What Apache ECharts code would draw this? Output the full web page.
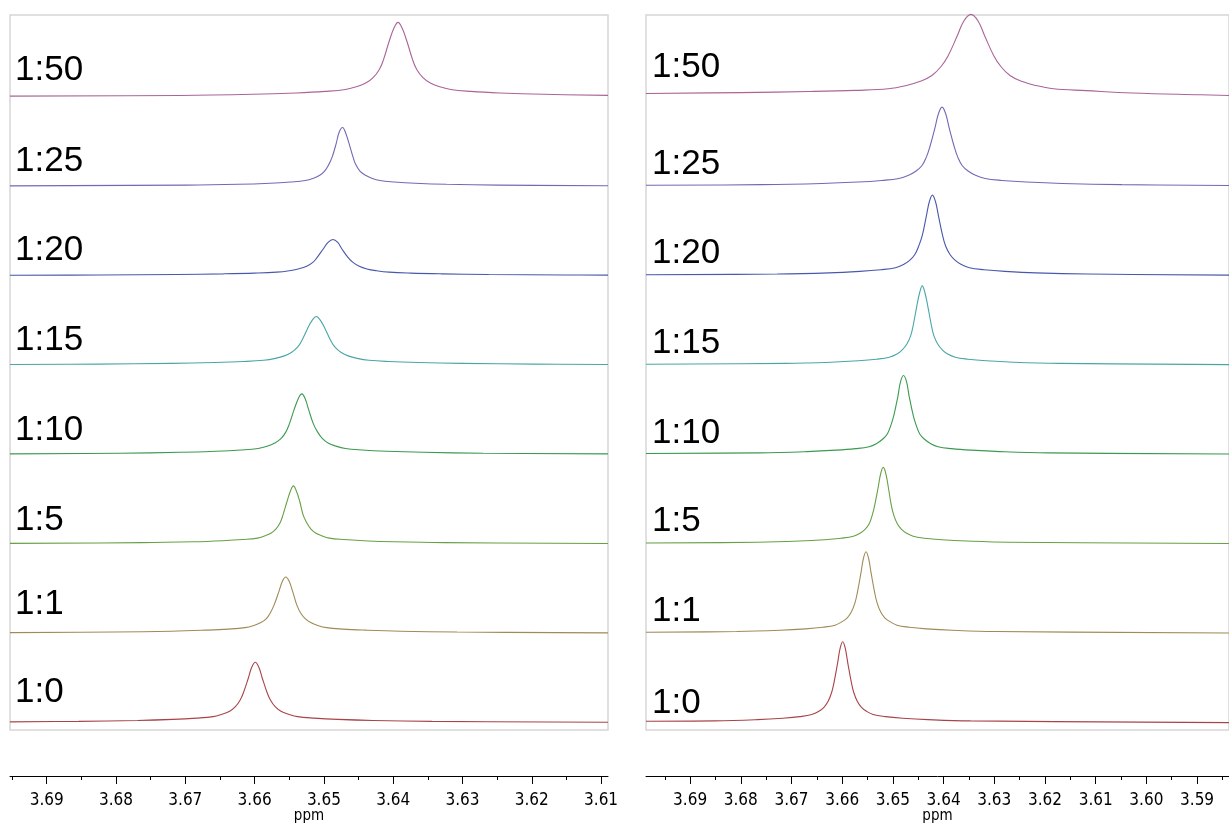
<!DOCTYPE html>
<html>
<head>
<meta charset="utf-8">
<script src="https://cdn.jsdelivr.net/npm/echarts@6/dist/echarts.min.js"></script>
<style>
html, body { margin: 0; padding: 0; background: #fff; }
#nmr { width: 1229px; height: 823px; }
</style>
</head>
<body>
<div id="nmr"></div>
<script>
// ratios, bottom trace first
var ratios = ['1:0', '1:1', '1:5', '1:10', '1:15', '1:20', '1:25', '1:50'];
var lineColors = ['#a84448', '#a08a55', '#67a045', '#3a9a50', '#4aa6a6', '#4858aa', '#7468b5', '#aa6498'];

// axis ticks (ppm)
var leftMajor = [3.61, 3.62, 3.63, 3.64, 3.65, 3.66, 3.67, 3.68, 3.69];
var leftMinor = [3.615, 3.625, 3.635, 3.645, 3.655, 3.665, 3.675, 3.685, 3.695];
var rightMajor = [3.59, 3.60, 3.61, 3.62, 3.63, 3.64, 3.65, 3.66, 3.67, 3.68, 3.69];
var rightMinor = [3.585, 3.595, 3.605, 3.615, 3.625, 3.635, 3.645, 3.655, 3.665, 3.675, 3.685, 3.695];

// left spectra [ppm, intensity]
var left_1_0 = [[3.6953,0.009],[3.6854,0.015],[3.6769,0.025],[3.6718,0.037],[3.6684,0.051],[3.6660,0.068],[3.6647,0.095],[3.6636,0.128],[3.6628,0.176],[3.6621,0.250],[3.6616,0.338],[3.6609,0.500],[3.6604,0.622],[3.6599,0.676],[3.6594,0.622],[3.6589,0.500],[3.6582,0.338],[3.6577,0.250],[3.6570,0.176],[3.6562,0.128],[3.6551,0.095],[3.6538,0.068],[3.6514,0.051],[3.6480,0.037],[3.6429,0.025],[3.6344,0.015],[3.6090,0.005]];
var left_1_1 = [[3.6953,0.007],[3.6803,0.014],[3.6720,0.023],[3.6671,0.035],[3.6638,0.047],[3.6614,0.063],[3.6601,0.088],[3.6591,0.120],[3.6583,0.164],[3.6577,0.233],[3.6572,0.315],[3.6565,0.466],[3.6560,0.580],[3.6555,0.630],[3.6550,0.580],[3.6545,0.466],[3.6539,0.315],[3.6534,0.233],[3.6527,0.164],[3.6519,0.120],[3.6509,0.088],[3.6496,0.063],[3.6473,0.047],[3.6440,0.035],[3.6390,0.023],[3.6308,0.014],[3.6090,0.005]];
var left_1_5 = [[3.6953,0.006],[3.6762,0.014],[3.6689,0.024],[3.6646,0.036],[3.6617,0.049],[3.6596,0.065],[3.6585,0.091],[3.6576,0.123],[3.6569,0.169],[3.6563,0.240],[3.6559,0.325],[3.6553,0.480],[3.6548,0.597],[3.6544,0.649],[3.6540,0.597],[3.6535,0.480],[3.6530,0.325],[3.6525,0.240],[3.6519,0.169],[3.6512,0.123],[3.6503,0.091],[3.6492,0.065],[3.6472,0.049],[3.6443,0.036],[3.6399,0.024],[3.6327,0.014],[3.6090,0.005]];
var left_1_10 = [[3.6953,0.008],[3.6795,0.015],[3.6707,0.025],[3.6655,0.037],[3.6620,0.051],[3.6595,0.068],[3.6581,0.095],[3.6571,0.129],[3.6562,0.177],[3.6555,0.251],[3.6550,0.340],[3.6543,0.502],[3.6537,0.625],[3.6532,0.679],[3.6527,0.625],[3.6522,0.502],[3.6515,0.340],[3.6509,0.251],[3.6502,0.177],[3.6494,0.129],[3.6483,0.095],[3.6469,0.068],[3.6445,0.051],[3.6410,0.037],[3.6357,0.025],[3.6270,0.015],[3.6090,0.008]];
var left_1_15 = [[3.6953,0.007],[3.6826,0.012],[3.6721,0.020],[3.6658,0.030],[3.6616,0.041],[3.6587,0.055],[3.6570,0.076],[3.6557,0.104],[3.6547,0.142],[3.6538,0.202],[3.6532,0.273],[3.6524,0.403],[3.6517,0.501],[3.6511,0.545],[3.6505,0.501],[3.6498,0.403],[3.6490,0.273],[3.6484,0.202],[3.6475,0.142],[3.6465,0.104],[3.6452,0.076],[3.6435,0.055],[3.6406,0.041],[3.6364,0.030],[3.6301,0.020],[3.6196,0.012],[3.6090,0.007]];
var left_1_20 = [[3.6953,0.006],[3.6825,0.009],[3.6712,0.015],[3.6645,0.022],[3.6600,0.030],[3.6568,0.041],[3.6550,0.057],[3.6537,0.077],[3.6525,0.106],[3.6516,0.150],[3.6510,0.203],[3.6501,0.300],[3.6494,0.374],[3.6487,0.406],[3.6480,0.374],[3.6474,0.300],[3.6465,0.203],[3.6458,0.150],[3.6449,0.106],[3.6438,0.077],[3.6424,0.057],[3.6406,0.041],[3.6375,0.030],[3.6330,0.022],[3.6262,0.015],[3.6150,0.009],[3.6090,0.007]];
var left_1_25 = [[3.6953,0.006],[3.6698,0.015],[3.6623,0.024],[3.6578,0.036],[3.6548,0.050],[3.6527,0.066],[3.6515,0.092],[3.6506,0.125],[3.6499,0.172],[3.6493,0.244],[3.6488,0.330],[3.6482,0.488],[3.6478,0.607],[3.6473,0.660],[3.6469,0.607],[3.6464,0.488],[3.6458,0.330],[3.6454,0.244],[3.6448,0.172],[3.6440,0.125],[3.6431,0.092],[3.6419,0.066],[3.6398,0.050],[3.6368,0.036],[3.6323,0.024],[3.6248,0.015],[3.6090,0.007]];
var left_1_50 = [[3.6953,0.010],[3.6708,0.018],[3.6603,0.031],[3.6540,0.046],[3.6498,0.063],[3.6469,0.084],[3.6452,0.117],[3.6439,0.159],[3.6429,0.217],[3.6420,0.309],[3.6414,0.418],[3.6406,0.619],[3.6399,0.769],[3.6393,0.836],[3.6387,0.769],[3.6380,0.619],[3.6372,0.418],[3.6366,0.309],[3.6357,0.217],[3.6347,0.159],[3.6334,0.117],[3.6317,0.084],[3.6288,0.063],[3.6246,0.046],[3.6183,0.031],[3.6090,0.019]];

// right spectra [ppm, intensity]
var right_1_0 = [[3.6987,0.016],[3.6851,0.020],[3.6767,0.034],[3.6717,0.050],[3.6683,0.068],[3.6660,0.091],[3.6646,0.127],[3.6636,0.172],[3.6628,0.236],[3.6621,0.335],[3.6616,0.453],[3.6609,0.670],[3.6604,0.834],[3.6599,0.906],[3.6594,0.834],[3.6589,0.670],[3.6582,0.453],[3.6577,0.335],[3.6570,0.236],[3.6562,0.172],[3.6552,0.127],[3.6539,0.091],[3.6515,0.068],[3.6481,0.050],[3.6431,0.034],[3.6347,0.020],[3.5837,0.000]];
var right_1_1 = [[3.6987,0.012],[3.6808,0.020],[3.6723,0.034],[3.6672,0.050],[3.6638,0.068],[3.6614,0.091],[3.6601,0.128],[3.6590,0.173],[3.6582,0.237],[3.6575,0.338],[3.6570,0.457],[3.6563,0.676],[3.6558,0.840],[3.6553,0.913],[3.6548,0.840],[3.6543,0.676],[3.6536,0.457],[3.6531,0.338],[3.6524,0.237],[3.6516,0.173],[3.6505,0.128],[3.6492,0.091],[3.6468,0.068],[3.6434,0.050],[3.6383,0.034],[3.6298,0.020],[3.5837,0.003]];
var right_1_5 = [[3.6987,0.010],[3.6767,0.019],[3.6684,0.032],[3.6635,0.047],[3.6602,0.064],[3.6578,0.086],[3.6565,0.120],[3.6555,0.163],[3.6547,0.223],[3.6541,0.317],[3.6536,0.429],[3.6529,0.634],[3.6524,0.788],[3.6519,0.857],[3.6514,0.788],[3.6509,0.634],[3.6503,0.429],[3.6498,0.317],[3.6491,0.223],[3.6483,0.163],[3.6473,0.120],[3.6460,0.086],[3.6437,0.064],[3.6404,0.047],[3.6354,0.032],[3.6272,0.019],[3.5837,0.004]];
var right_1_10 = [[3.6987,0.012],[3.6764,0.019],[3.6669,0.033],[3.6612,0.049],[3.6574,0.066],[3.6547,0.088],[3.6532,0.124],[3.6521,0.168],[3.6511,0.230],[3.6504,0.327],[3.6498,0.442],[3.6490,0.654],[3.6485,0.813],[3.6479,0.884],[3.6473,0.813],[3.6468,0.654],[3.6460,0.442],[3.6454,0.327],[3.6447,0.230],[3.6437,0.168],[3.6426,0.124],[3.6411,0.088],[3.6384,0.066],[3.6346,0.049],[3.6289,0.033],[3.6194,0.019],[3.5837,0.006]];
var right_1_15 = [[3.6987,0.010],[3.6712,0.020],[3.6622,0.033],[3.6568,0.049],[3.6532,0.067],[3.6507,0.089],[3.6492,0.124],[3.6482,0.169],[3.6473,0.231],[3.6465,0.328],[3.6460,0.444],[3.6453,0.656],[3.6447,0.816],[3.6442,0.887],[3.6437,0.816],[3.6431,0.656],[3.6424,0.444],[3.6419,0.328],[3.6411,0.231],[3.6402,0.169],[3.6392,0.124],[3.6377,0.089],[3.6352,0.067],[3.6316,0.049],[3.6262,0.033],[3.6172,0.020],[3.5837,0.006]];
var right_1_20 = [[3.6987,0.012],[3.6728,0.020],[3.6626,0.033],[3.6565,0.050],[3.6524,0.068],[3.6495,0.090],[3.6479,0.126],[3.6467,0.172],[3.6457,0.235],[3.6449,0.334],[3.6442,0.452],[3.6434,0.668],[3.6428,0.831],[3.6422,0.903],[3.6416,0.831],[3.6410,0.668],[3.6402,0.452],[3.6396,0.334],[3.6387,0.235],[3.6377,0.172],[3.6365,0.126],[3.6349,0.090],[3.6320,0.068],[3.6279,0.050],[3.6218,0.033],[3.6116,0.020],[3.5837,0.008]];
var right_1_25 = [[3.6987,0.013],[3.6759,0.020],[3.6640,0.033],[3.6569,0.049],[3.6522,0.067],[3.6488,0.089],[3.6469,0.124],[3.6455,0.169],[3.6443,0.231],[3.6434,0.328],[3.6427,0.444],[3.6417,0.656],[3.6410,0.816],[3.6403,0.887],[3.6396,0.816],[3.6389,0.656],[3.6379,0.444],[3.6372,0.328],[3.6363,0.231],[3.6351,0.169],[3.6337,0.124],[3.6318,0.089],[3.6285,0.067],[3.6237,0.049],[3.6166,0.033],[3.6048,0.020],[3.5837,0.010]];
var right_1_50 = [[3.6987,0.040],[3.6800,0.050],[3.6664,0.062],[3.6573,0.075],[3.6509,0.093],[3.6473,0.130],[3.6446,0.176],[3.6423,0.241],[3.6405,0.342],[3.6391,0.463],[3.6373,0.685],[3.6360,0.851],[3.6346,0.925],[3.6332,0.851],[3.6319,0.685],[3.6301,0.463],[3.6287,0.342],[3.6269,0.241],[3.6246,0.176],[3.6219,0.130],[3.6183,0.093],[3.6119,0.072],[3.6028,0.045],[3.5892,0.025],[3.5837,0.018]];

var leftTraces = [left_1_0, left_1_1, left_1_5, left_1_10, left_1_15, left_1_20, left_1_25, left_1_50];
var rightTraces = [right_1_0, right_1_1, right_1_5, right_1_10, right_1_15, right_1_20, right_1_25, right_1_50];

var nmrStack = function () {
    var font = 'DejaVu Sans Condensed';
    // label centre lines, bottom trace first
    var leftLabelY = [692, 604, 520, 430, 340, 250, 161, 70];
    var rightLabelY = [703, 611, 521, 433, 343, 253, 164, 67];

    function majorAxis(grid, min, max, ticks) {
        return {
            type: 'value', gridIndex: grid, min: min, max: max, inverse: true,
            position: 'bottom', offset: 46,
            axisLine: { show: true, onZero: false, lineStyle: { color: '#000', width: 1 } },
            axisTick: { show: true, length: 8, customValues: ticks, lineStyle: { color: '#000' } },
            axisLabel: {
                customValues: ticks, margin: 16, color: '#000',
                fontFamily: font, fontSize: 17,
                formatter: function (v) { return v.toFixed(2); }
            },
            splitLine: { show: false },
            name: 'ppm', nameLocation: 'middle', nameGap: 33, nameMoveOverlap: false,
            nameTextStyle: { fontFamily: font, fontSize: 15, color: '#000' }
        };
    }

    function minorAxis(grid, min, max, ticks) {
        return {
            type: 'value', gridIndex: grid, min: min, max: max, inverse: true,
            position: 'bottom', offset: 46,
            axisLine: { show: false, onZero: false },
            axisTick: { show: true, length: 4, customValues: ticks, lineStyle: { color: '#000' } },
            axisLabel: { show: false },
            splitLine: { show: false }
        };
    }

    function yAxis(grid) {
        return { type: 'value', gridIndex: grid, min: -0.082, max: 7.918, show: false };
    }

    function buildSeries(traces, xIndex, yIndex) {
        return traces.map(function (tr, i) {
            return {
                name: ratios[i], type: 'line',
                xAxisIndex: xIndex, yAxisIndex: yIndex,
                data: tr.map(function (p) { return [p[0], p[1] + i]; }),
                showSymbol: false, symbol: 'none',
                smooth: 0.4, clip: false, silent: true,
                lineStyle: { width: 1.1, color: lineColors[i] }
            };
        });
    }

    function labels(xPos, ys) {
        return ratios.map(function (r, i) {
            return {
                type: 'text', x: xPos, y: ys[i], silent: true,
                style: { text: r, fontFamily: 'Liberation Sans', fontSize: 35, fill: '#000', verticalAlign: 'middle' }
            };
        });
    }

    var chart = echarts.init(document.getElementById('nmr'));
    var option = {
        animation: false,
        backgroundColor: '#fff',
        grid: [
            { left: 10, top: 15, width: 598, height: 715, outerBoundsMode: 'none', containLabel: false,
              show: true, borderColor: '#d6d6d6', borderWidth: 1.5 },
            { left: 646, top: 15, width: 583, height: 715, outerBoundsMode: 'none', containLabel: false,
              show: true, borderColor: '#d6d6d6', borderWidth: 1.5 }
        ],
        xAxis: [
            majorAxis(0, 3.609, 3.6953, leftMajor),
            minorAxis(0, 3.609, 3.6953, leftMinor),
            majorAxis(1, 3.5837, 3.6987, rightMajor),
            minorAxis(1, 3.5837, 3.6987, rightMinor)
        ],
        yAxis: [yAxis(0), yAxis(1)],
        series: buildSeries(leftTraces, 0, 0).concat(buildSeries(rightTraces, 2, 1)),
        graphic: labels(15, leftLabelY).concat(labels(652, rightLabelY))
    };
    chart.setOption(option);
}();
</script>
</body>
</html>
